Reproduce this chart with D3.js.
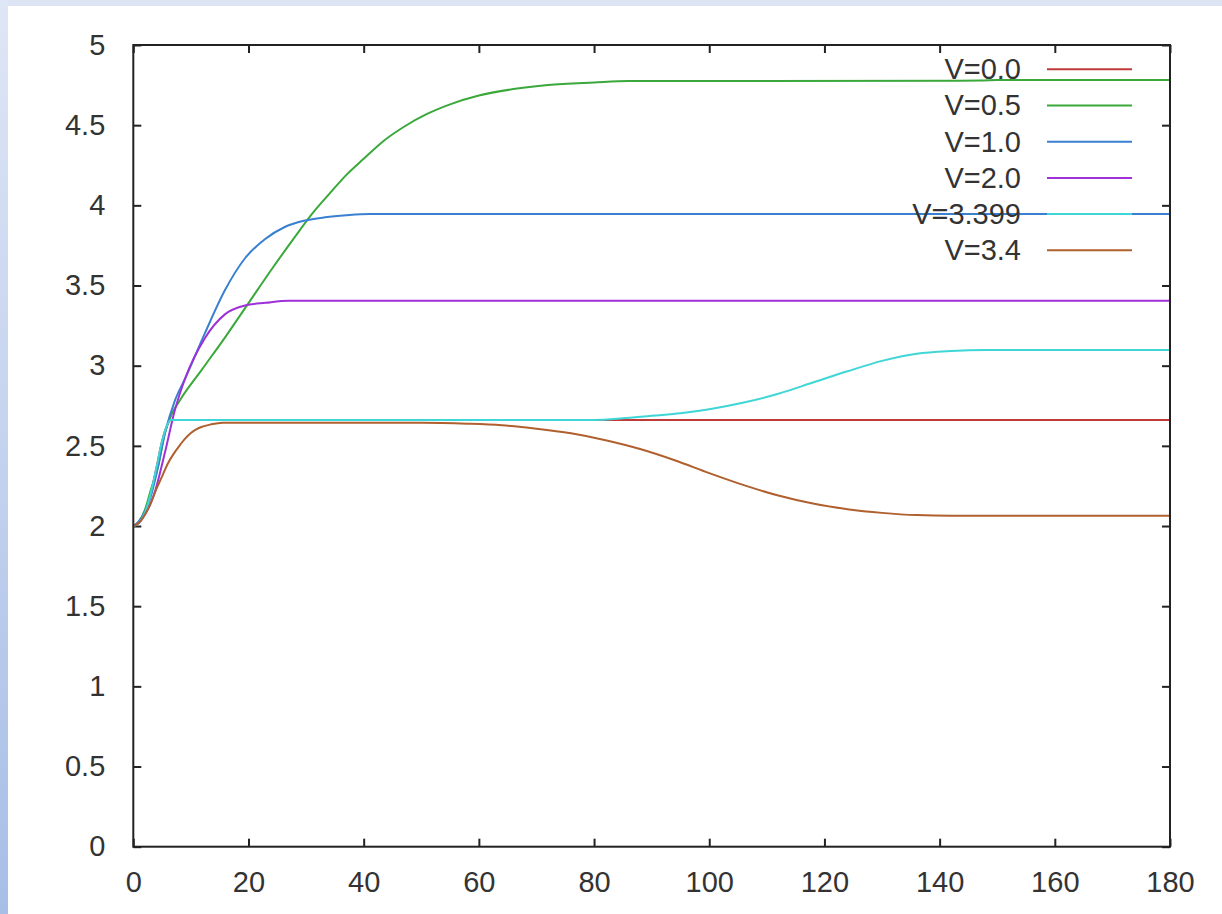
<!DOCTYPE html>
<html>
<head>
<meta charset="utf-8">
<script src="https://cdn.jsdelivr.net/npm/d3@7"></script>
<style>
  html, body { margin: 0; padding: 0; background: #fff; }
  svg { display: block; }
  text { font-family: "Liberation Sans", Arial, sans-serif; fill: #333; }
</style>
</head>
<body>
<svg id="chart" width="1222" height="914"></svg>
<script>
// ---- data: (t, value) samples for each run ----
const seriesLabels = ["V=0.0", "V=0.5", "V=1.0", "V=2.0", "V=3.399", "V=3.4"];

const runV00 = [[0,2.0],[1,2.02],[2,2.08],[3,2.2],[4,2.36],[5,2.53],[5.9,2.63],[6.5,2.661],[180,2.661]];

const runV05 = [[0,2.0],[1,2.03],[2,2.1],[3,2.22],[4.3,2.37],[5.5,2.58],[6.7,2.7],[8.1,2.785],
  [12,2.98],[16,3.18],[20,3.39],[24,3.6],[28,3.8],[31,3.945],[34,4.07],[37,4.19],[40,4.29],
  [43.4,4.4],[47,4.49],[51,4.57],[55,4.63],[60,4.685],[66,4.725],[72,4.75],[80,4.766],[86,4.775],
  [147,4.778],[150,4.782],[180,4.782]];

const runV10 = [[0,2.0],[1,2.03],[2,2.09],[3,2.18],[3.8,2.29],[5.5,2.58],[7.2,2.78],[9,2.92],
  [12.4,3.2],[15.9,3.47],[19.4,3.67],[22.9,3.79],[26.3,3.865],[29.8,3.905],[33.3,3.925],[37,3.938],
  [41,3.946],[180,3.946]];

const runV20 = [[0,2.0],[1,2.02],[2,2.07],[3,2.14],[3.8,2.22],[5.5,2.46],[7.2,2.72],[9,2.92],
  [12.4,3.17],[15.9,3.32],[19.4,3.375],[23,3.392],[27,3.405],[180,3.405]];

const runV3399 = [[0,2.0],[1,2.02],[2,2.08],[3,2.2],[4,2.36],[5,2.53],[5.9,2.63],[6.5,2.662],
  [80,2.662],[85,2.672],[90,2.688],[95,2.703],[100,2.728],[106,2.77],[112,2.825],[118,2.895],
  [124,2.965],[130,3.03],[136,3.075],[142,3.092],[148,3.098],[180,3.098]];

const runV34 = [[0,2.0],[1,2.02],[2,2.07],[3,2.14],[4,2.23],[5,2.31],[6,2.39],[7,2.45],[8,2.5],
  [9,2.545],[10,2.58],[11,2.605],[12,2.62],[13.5,2.634],[15.5,2.644],[50,2.644],[58,2.638],
  [64,2.628],[70,2.607],[76,2.578],[82,2.535],[88,2.48],[94,2.41],[100,2.33],[106,2.255],
  [112,2.19],[118,2.14],[124,2.105],[130,2.082],[136,2.068],[142,2.064],[180,2.064]];

const runs = [runV00, runV05, runV10, runV20, runV3399, runV34];

const xTicks = [0, 20, 40, 60, 80, 100, 120, 140, 160, 180];
const yTicks = [0, 0.5, 1, 1.5, 2, 2.5, 3, 3.5, 4, 4.5, 5];

// ---- styling ----
const palette = ["#c03a3a", "#3aa83a", "#3a80d0", "#a030d8", "#3ed6d6", "#b0602e"];
const W = 1222, H = 914;
const plot = { left: 133.3, right: 1170, top: 45, bottom: 846.7 };
const fontSize = 29;

const svg = d3.select("#chart");

// page frame: light blue band along the top and left edges
const defs = svg.append("defs");
const grad = defs.append("linearGradient").attr("id", "edgeGrad")
  .attr("x1", 0).attr("y1", 0).attr("x2", 0).attr("y2", 1);
grad.append("stop").attr("offset", "0%").attr("stop-color", "#dfe6f5");
grad.append("stop").attr("offset", "100%").attr("stop-color", "#a7bee7");
svg.append("rect").attr("x", 0).attr("y", 0).attr("width", W).attr("height", 6).attr("fill", "#dde5f5");
svg.append("rect").attr("x", 0).attr("y", 0).attr("width", 8).attr("height", H).attr("fill", "url(#edgeGrad)");

defs.append("clipPath").attr("id", "plotClip").append("rect")
  .attr("x", plot.left).attr("y", plot.top)
  .attr("width", plot.right - plot.left).attr("height", plot.bottom - plot.top);

const x = d3.scaleLinear().domain([0, 180]).range([plot.left, plot.right]);
const y = d3.scaleLinear().domain([0, 5]).range([plot.bottom, plot.top]);

// axes with inward ticks on all four sides
function styleAxis(g) {
  g.select(".domain").remove();
  g.selectAll(".tick line").attr("stroke", "#222").attr("stroke-width", 2);
  g.selectAll(".tick text").style("font-size", fontSize + "px").attr("fill", "#333")
    .style("font-family", "'Liberation Sans', Arial, sans-serif");
}
svg.append("g").attr("transform", `translate(0,${plot.bottom})`)
  .call(d3.axisBottom(x).tickValues(xTicks).tickSize(-8).tickPadding(25).tickFormat(d3.format("d")))
  .call(styleAxis);
svg.append("g").attr("transform", `translate(0,${plot.top})`)
  .call(d3.axisTop(x).tickValues(xTicks).tickSize(-8).tickFormat(""))
  .call(styleAxis);
svg.append("g").attr("transform", `translate(${plot.left},0)`)
  .call(d3.axisLeft(y).tickValues(yTicks).tickSize(-8).tickPadding(28).tickFormat(d3.format("~g")))
  .call(styleAxis);
svg.append("g").attr("transform", `translate(${plot.right},0)`)
  .call(d3.axisRight(y).tickValues(yTicks).tickSize(-8).tickFormat(""))
  .call(styleAxis);

// the curves
const line = d3.line().x(d => x(d[0])).y(d => y(d[1])).curve(d3.curveMonotoneX);
const curves = svg.append("g").attr("clip-path", "url(#plotClip)");
runs.forEach((run, i) => {
  curves.append("path").datum(run)
    .attr("d", line)
    .attr("fill", "none")
    .attr("stroke", palette[i])
    .attr("stroke-width", 2)
    .attr("stroke-linejoin", "round");
});

// legend, top right inside the frame
const legend = svg.append("g");
seriesLabels.forEach((label, i) => {
  const ly = 69.3 + i * 36.2;
  legend.append("text")
    .attr("x", 1021).attr("y", ly).attr("dy", "0.34em")
    .attr("text-anchor", "end")
    .style("font-size", fontSize + "px")
    .text(label);
  legend.append("line")
    .attr("x1", 1047).attr("x2", 1132).attr("y1", ly).attr("y2", ly)
    .attr("stroke", palette[i]).attr("stroke-width", 2);
});

// plot frame
svg.append("rect")
  .attr("x", plot.left).attr("y", plot.top)
  .attr("width", plot.right - plot.left).attr("height", plot.bottom - plot.top)
  .attr("fill", "none").attr("stroke", "#222").attr("stroke-width", 2);
</script>
</body>
</html>
